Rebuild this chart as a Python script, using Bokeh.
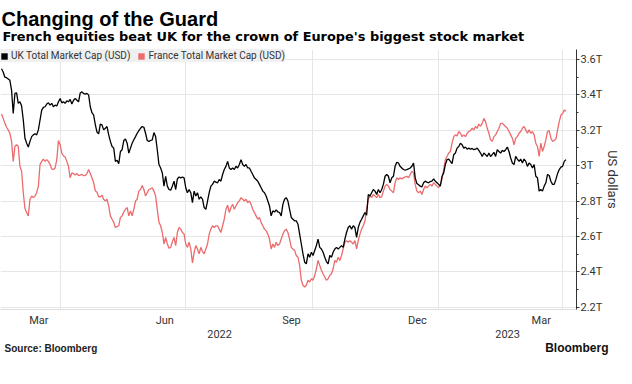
import pandas as pd
from bokeh.plotting import figure
from bokeh.models import (Range1d, FixedTicker, DatetimeAxis, DatetimeTickFormatter,
                          Legend, LegendItem, Title, ColumnDataSource)
from bokeh.embed import file_html
from bokeh.resources import INLINE

# ---------------- data ----------------
first_date = "2022-02-17 10:00"
last_date = "2023-04-03 10:00"

uk_values = [
    3.548, 3.529, 3.500, 3.497, 3.490, 3.482, 3.426, 3.295, 3.408, 3.411,
    3.352, 3.361, 3.337, 3.258, 3.155, 3.127, 3.105, 3.137, 3.164, 3.174,
    3.180, 3.174, 3.202, 3.258, 3.314, 3.329, 3.333, 3.348, 3.355, 3.342,
    3.352, 3.333, 3.342, 3.337, 3.361, 3.379, 3.355, 3.361, 3.352, 3.366,
    3.361, 3.374, 3.348, 3.370, 3.379, 3.370, 3.361, 3.411, 3.417, 3.408,
    3.404, 3.408, 3.400, 3.333, 3.299, 3.286, 3.232, 3.190, 3.180, 3.235,
    3.230, 3.202, 3.211, 3.221, 3.174, 3.137, 3.108, 3.099, 3.024, 3.030,
    3.011, 3.080, 3.090, 3.142, 3.150, 3.127, 3.071, 3.099, 3.127, 3.146,
    3.164, 3.183, 3.198, 3.211, 3.221, 3.217, 3.183, 3.142, 3.137, 3.142,
    3.146, 3.187, 3.164, 3.090, 3.006, 2.987, 2.959, 2.884, 2.940, 2.884,
    2.865, 2.861, 2.884, 2.912, 2.865, 2.925, 2.936, 2.931, 2.936, 2.931,
    2.875, 2.847, 2.865, 2.847, 2.791, 2.856, 2.828, 2.847, 2.810, 2.824,
    2.810, 2.763, 2.753, 2.800, 2.847, 2.884, 2.894, 2.912, 2.907, 2.903,
    2.922, 2.912, 2.950, 2.978, 2.996, 3.024, 2.987, 2.978, 2.987, 2.978,
    2.996, 2.987, 3.006, 3.034, 3.006, 2.996, 3.006, 2.987, 2.987, 2.968,
    2.950, 2.931, 2.922, 2.912, 2.894, 2.875, 2.856, 2.847, 2.828, 2.800,
    2.772, 2.716, 2.744, 2.738, 2.750, 2.738, 2.735, 2.716, 2.781, 2.810,
    2.819, 2.800, 2.753, 2.707, 2.697, 2.688, 2.688, 2.669, 2.613, 2.557,
    2.501, 2.454, 2.445, 2.501, 2.482, 2.510, 2.492, 2.520, 2.548, 2.585,
    2.538, 2.529, 2.510, 2.482, 2.458, 2.445, 2.492, 2.482, 2.510, 2.529,
    2.538, 2.529, 2.538, 2.548, 2.538, 2.585, 2.622, 2.650, 2.660, 2.641,
    2.660, 2.650, 2.594, 2.650, 2.679, 2.697, 2.716, 2.735, 2.720, 2.837,
    2.828, 2.847, 2.865, 2.856, 2.837, 2.865, 2.847, 2.865, 2.894, 2.940,
    2.950, 2.940, 2.903, 2.931, 2.940, 2.996, 3.019, 3.015, 2.996, 2.987,
    2.978, 2.974, 2.978, 2.981, 2.987, 2.996, 3.015, 2.931, 2.899, 2.892,
    2.884, 2.879, 2.903, 2.912, 2.907, 2.903, 2.910, 2.912, 2.925, 2.912,
    2.903, 2.894, 2.884, 2.940, 2.959, 3.006, 3.034, 3.037, 3.024, 3.011,
    3.062, 3.071, 3.099, 3.108, 3.127, 3.118, 3.099, 3.105, 3.093, 3.099,
    3.093, 3.097, 3.090, 3.093, 3.099, 3.086, 3.071, 3.052, 3.071, 3.062,
    3.052, 3.071, 3.052, 3.062, 3.075, 3.052, 3.090, 3.080, 3.071, 3.086,
    3.080, 3.090, 3.105, 3.080, 3.043, 3.015, 3.006, 3.052, 3.037, 3.024,
    3.037, 3.015, 3.037, 3.024, 2.996, 3.015, 3.006, 2.987, 3.006, 2.940,
    2.931, 2.856, 2.865, 2.856, 2.884, 2.903, 2.950, 2.944, 2.912, 2.894,
    2.894, 2.922, 2.955, 2.978, 2.992, 2.996, 3.024, 3.034,
]

fr_values = [
    3.292, 3.267, 3.239, 3.217, 3.202, 3.183, 3.137, 3.024, 3.108, 3.118,
    3.108, 2.996, 2.968, 2.847, 2.757, 2.735, 2.716, 2.810, 2.828, 2.819,
    2.828, 2.847, 2.884, 3.006, 3.024, 3.037, 3.024, 3.034, 3.024, 3.006,
    2.981, 2.978, 2.987, 3.034, 3.142, 3.118, 3.071, 3.056, 3.049, 3.024,
    2.996, 2.931, 2.959, 2.955, 2.947, 2.955, 2.944, 2.947, 2.950, 2.944,
    2.944, 2.955, 2.978, 2.955, 2.931, 2.903, 2.858, 2.850, 2.824, 2.824,
    2.832, 2.810, 2.800, 2.810, 2.772, 2.716, 2.697, 2.679, 2.650, 2.655,
    2.660, 2.707, 2.716, 2.738, 2.753, 2.763, 2.716, 2.744, 2.716, 2.753,
    2.800, 2.810, 2.856, 2.865, 2.888, 2.865, 2.828, 2.847, 2.865, 2.869,
    2.875, 2.856, 2.828, 2.753, 2.679, 2.660, 2.622, 2.557, 2.594, 2.557,
    2.533, 2.538, 2.570, 2.594, 2.548, 2.622, 2.650, 2.641, 2.622, 2.613,
    2.557, 2.538, 2.567, 2.529, 2.450, 2.510, 2.548, 2.529, 2.501, 2.538,
    2.514, 2.501, 2.529, 2.557, 2.613, 2.641, 2.660, 2.650, 2.660, 2.660,
    2.641, 2.622, 2.660, 2.697, 2.753, 2.776, 2.735, 2.763, 2.781, 2.753,
    2.772, 2.791, 2.800, 2.819, 2.810, 2.800, 2.810, 2.791, 2.800, 2.781,
    2.753, 2.735, 2.716, 2.697, 2.707, 2.679, 2.660, 2.641, 2.632, 2.613,
    2.585, 2.529, 2.557, 2.538, 2.567, 2.548, 2.557, 2.585, 2.613, 2.632,
    2.641, 2.622, 2.585, 2.538, 2.529, 2.520, 2.492, 2.482, 2.436, 2.352,
    2.324, 2.314, 2.324, 2.352, 2.342, 2.361, 2.352, 2.380, 2.417, 2.464,
    2.436, 2.408, 2.389, 2.370, 2.352, 2.361, 2.380, 2.389, 2.417, 2.464,
    2.454, 2.482, 2.464, 2.492, 2.529, 2.567, 2.576, 2.567, 2.576, 2.567,
    2.557, 2.576, 2.529, 2.576, 2.613, 2.641, 2.660, 2.688, 2.753, 2.810,
    2.828, 2.819, 2.837, 2.828, 2.819, 2.837, 2.819, 2.824, 2.856, 2.884,
    2.894, 2.884, 2.865, 2.856, 2.847, 2.903, 2.931, 2.922, 2.931, 2.925,
    2.931, 2.936, 2.940, 2.931, 2.950, 2.968, 2.959, 2.894, 2.856, 2.847,
    2.856, 2.837, 2.865, 2.884, 2.875, 2.884, 2.894, 2.884, 2.903, 2.894,
    2.884, 2.875, 2.894, 2.922, 2.978, 3.034, 3.052, 3.071, 3.080, 3.127,
    3.164, 3.174, 3.168, 3.193, 3.183, 3.164, 3.174, 3.164, 3.183, 3.193,
    3.198, 3.211, 3.202, 3.221, 3.211, 3.235, 3.223, 3.239, 3.267, 3.249,
    3.211, 3.183, 3.146, 3.137, 3.164, 3.174, 3.193, 3.211, 3.239, 3.239,
    3.230, 3.221, 3.211, 3.193, 3.174, 3.155, 3.118, 3.155, 3.164, 3.183,
    3.193, 3.211, 3.221, 3.202, 3.183, 3.202, 3.183, 3.193, 3.174, 3.127,
    3.108, 3.052, 3.127, 3.080, 3.108, 3.146, 3.193, 3.198, 3.155, 3.137,
    3.142, 3.150, 3.202, 3.249, 3.286, 3.295, 3.314, 3.310,
]

series_names = ["UK Total Market Cap (USD)", "France Total Market Cap (USD)"]
quarter_months = ["2022-03", "2022-06", "2022-09", "2022-12", "2023-03"]
years = [2022, 2023]
y_ticks = [2.2, 2.4, 2.6, 2.8, 3.0, 3.2, 3.4, 3.6]
y_tick_labels = ["2.2T", "2.4T", "2.6T", "2.8T", "3T", "3.2T", "3.4T", "3.6T"]
y_minor_ticks = [2.3, 2.5, 2.7, 2.9, 3.1, 3.3, 3.5]
view_start = pd.Timestamp("2022-02-16 16:20")
view_end = pd.Timestamp("2023-04-11 02:00")
y_low, y_high = 2.1867, 3.6565

title_text = "Changing of the Guard"
subtitle_text = "French equities beat UK for the crown of Europe's biggest stock market"
source_text = "Source: Bloomberg"
brand_text = "Bloomberg"
y_label = "US dollars"

# ---------------- derived positions ----------------
def ms(ts):
    return pd.Timestamp(ts).timestamp() * 1000.0

dates = pd.date_range(first_date, last_date, periods=len(uk_values))
src = ColumnDataSource(data=dict(date=dates, uk=uk_values, fr=fr_values))

month_mid, quarter_ends = [], []
for m in quarter_months:
    a = pd.Timestamp(m + "-01")
    b = a + pd.offsets.MonthBegin(1)
    month_mid.append(ms(a + (b - a) / 2))
    quarter_ends.append(ms(b))

year_mid = []
for y in years:
    a = max(view_start, pd.Timestamp(f"{y}-01-01"))
    b = min(view_end, pd.Timestamp(f"{y + 1}-01-01"))
    year_mid.append(ms(a + (b - a) / 2))

# ---------------- styling ----------------
UK_COLOR = "#000000"
FR_COLOR = "#ec6b6d"
GRID = "#e6e6e6"
TXT = "#333333"
FONT = "Roboto"

p = figure(x_axis_type="datetime", y_axis_location="right", title=None,
           frame_width=576, frame_height=260,
           min_border_left=0, min_border_right=56, min_border_top=49, min_border_bottom=75,
           x_range=Range1d(view_start, view_end), y_range=Range1d(y_low, y_high),
           toolbar_location=None, output_backend="svg")
p.outline_line_color = None
p.background_fill_color = "white"
p.border_fill_color = "white"

# lines
p.line("date", "fr", source=src, line_color=FR_COLOR, line_width=1.3)
p.line("date", "uk", source=src, line_color=UK_COLOR, line_width=1.3)

# y axis (right)
yax = p.yaxis[0]
yax.ticker = FixedTicker(ticks=y_ticks, minor_ticks=y_minor_ticks)
yax.major_label_overrides = dict(zip(y_ticks, y_tick_labels))
yax.axis_label = y_label
yax.axis_label_text_font = FONT
yax.axis_label_text_font_size = "13px"
yax.axis_label_text_font_style = "normal"
yax.axis_label_text_color = TXT
yax.axis_label_standoff = 0
yax.major_label_text_font = FONT
yax.major_label_text_font_size = "11px"
yax.major_label_text_color = TXT
yax.major_label_standoff = 1
yax.major_tick_in = 0
yax.major_tick_out = 3
yax.minor_tick_in = 0
yax.minor_tick_out = 2
yax.axis_line_color = "#333333"
yax.major_tick_line_color = "#333333"
yax.minor_tick_line_color = "#333333"

# month axis (below)
fmt_keys = ["microseconds", "milliseconds", "seconds", "minsec", "minutes",
            "hourmin", "hours", "days", "months", "years"]
mx = p.xaxis[0]
mx.ticker = FixedTicker(ticks=month_mid)
mx.formatter = DatetimeTickFormatter(**{k: "%b" for k in fmt_keys})
mx.major_tick_in = 0
mx.major_tick_out = 0
mx.minor_tick_in = 0
mx.minor_tick_out = 0
mx.major_tick_line_color = None
mx.minor_tick_line_color = None
mx.axis_line_color = "#dddddd"
mx.major_label_standoff = 4
mx.major_label_text_font = FONT
mx.major_label_text_font_size = "11px"
mx.major_label_text_color = TXT

yx = DatetimeAxis(ticker=FixedTicker(ticks=year_mid),
                  formatter=DatetimeTickFormatter(**{k: "%Y" for k in fmt_keys}))
yx.major_tick_in = 0
yx.major_tick_out = 0
yx.minor_tick_in = 0
yx.minor_tick_out = 0
yx.major_tick_line_color = None
yx.minor_tick_line_color = None
yx.axis_line_color = None
yx.major_label_standoff = 0
yx.major_label_text_font = FONT
yx.major_label_text_font_size = "11px"
yx.major_label_text_color = TXT
p.add_layout(yx, "below")

# grids
p.xgrid[0].ticker = FixedTicker(ticks=quarter_ends)
p.xgrid[0].grid_line_color = GRID
p.ygrid[0].ticker = FixedTicker(ticks=y_ticks)
p.ygrid[0].grid_line_color = GRID

# legend with square keys (key renderers hold one undefined point, so nothing is drawn in the plot)
nan = float("nan")
uk_key = p.quad(left=[nan], right=[nan], top=[nan], bottom=[nan],
                fill_color=UK_COLOR, line_color=None)
fr_key = p.quad(left=[nan], right=[nan], top=[nan], bottom=[nan],
                fill_color=FR_COLOR, line_color=None)
legend = Legend(items=[LegendItem(label=series_names[0], renderers=[uk_key]),
                       LegendItem(label=series_names[1], renderers=[fr_key])],
                orientation="horizontal", location="top_left", margin=0, padding=3,
                spacing=7, glyph_width=8, glyph_height=8, label_standoff=3,
                label_height=13, label_text_font=FONT, label_text_font_size="10px",
                label_text_color=TXT, background_fill_color="#f0f0f0",
                background_fill_alpha=1.0, border_line_color=None)
p.add_layout(legend, "center")

# titles (above: first added sits nearest the plot)
p.add_layout(Title(text=subtitle_text, align="left", offset=2, standoff=10.6,
                   text_font="DejaVu Sans", text_font_style="bold",
                   text_font_size="12.9px", text_color="#000000"), "above")
p.add_layout(Title(text=title_text, align="left", offset=1, standoff=-17.6,
                   text_font="Liberation Sans", text_font_style="bold",
                   text_font_size="20px", text_color="#000000"), "above")

# footer (below the axes): source on the left, brand on the right of the same row
p.add_layout(Title(text=source_text, align="left", offset=4, standoff=0,
                   text_font="Liberation Sans", text_font_style="bold",
                   text_font_size="10px", text_color="#222222"), "below")
p.add_layout(Title(text=brand_text, align="right", offset=-32, standoff=-26,
                   vertical_align="top",
                   text_font="Liberation Sans", text_font_style="bold",
                   text_font_size="12px", text_color="#111111"), "below")

open("out.html", "w").write(file_html(p, INLINE))
